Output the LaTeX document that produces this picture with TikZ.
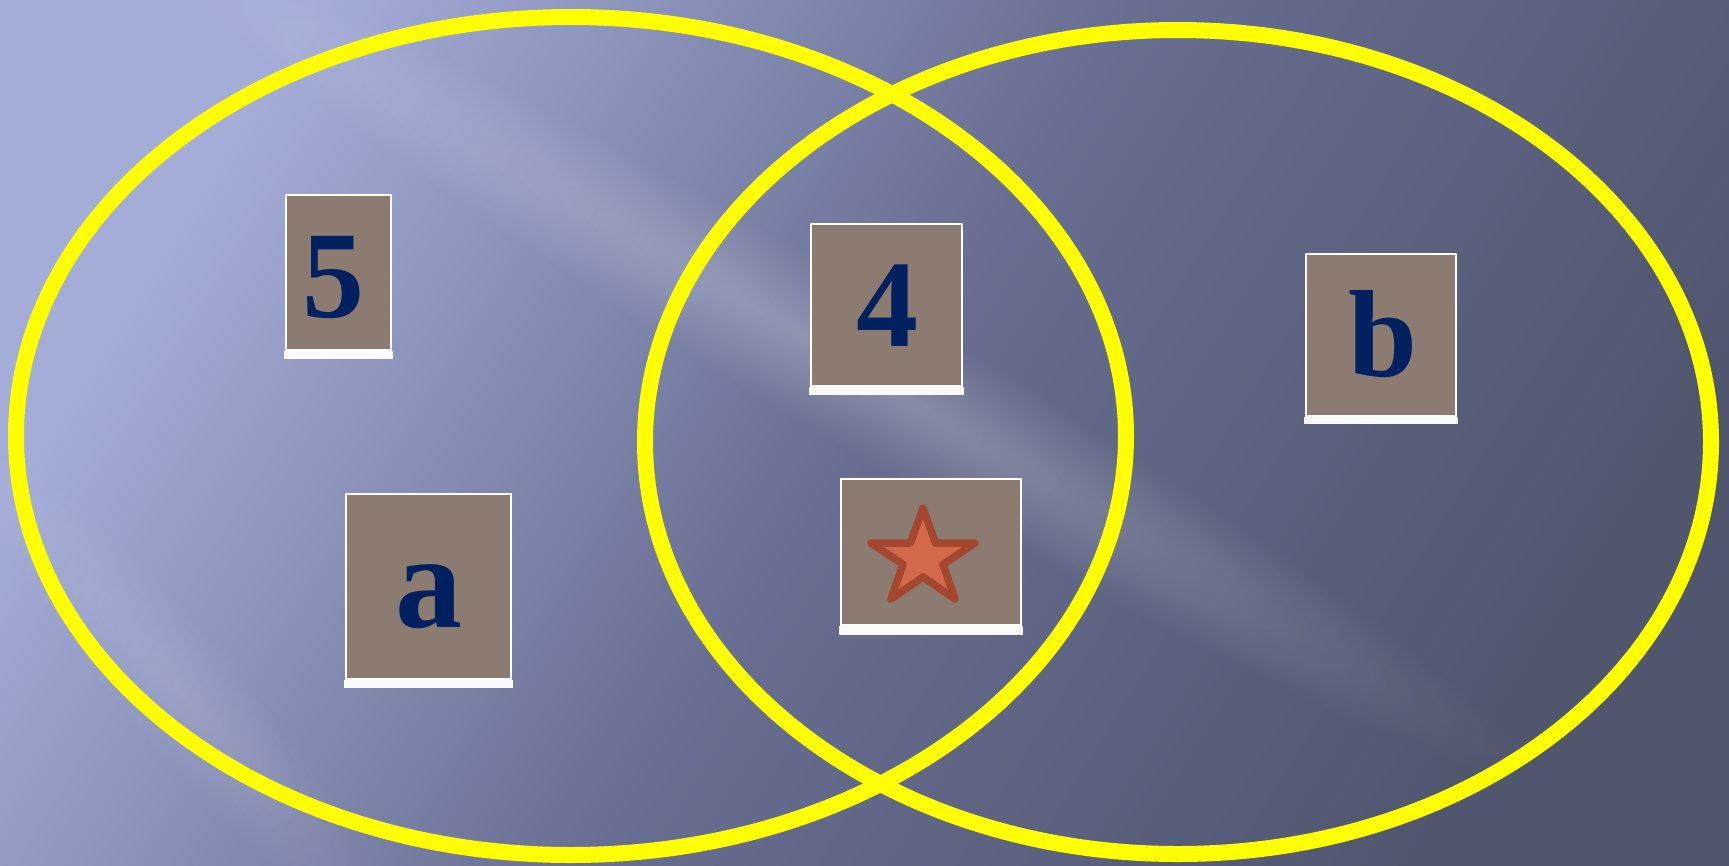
\documentclass[tikz,border=0pt]{standalone}
\usepackage{fontspec}
\setmainfont{Liberation Serif}
\usetikzlibrary{fadings}
\definecolor{bgL}{RGB}{164,173,216}
\definecolor{bgM}{RGB}{104,110,145}
\definecolor{bgD}{RGB}{80,86,110}
\definecolor{boxbrown}{RGB}{139,123,112}
\definecolor{txtblue}{RGB}{0,32,96}
\definecolor{starfill}{RGB}{210,105,74}
\definecolor{starline}{RGB}{165,70,46}
\definecolor{barwhite}{RGB}{250,250,252}
\definecolor{ringyellow}{RGB}{255,255,0}
\tikzfading[name=softblob, inner color=transparent!78, outer color=transparent!100]
\tikzfading[name=softblobweak, inner color=transparent!88, outer color=transparent!100]
\tikzset{
  ring/.style={draw=ringyellow, line width=16pt},
  cardbox/.style={rectangle, fill=boxbrown, draw=white, line width=2pt, inner sep=0pt},
  cardbar/.style={fill=barwhite},
  lbl/.style={text=txtblue, inner sep=0pt, anchor=base, font=\fontsize{124}{130}\selectfont\bfseries},
}
\begin{document}
\begin{tikzpicture}[x=1pt,y=-1pt]
\useasboundingbox (0,0) rectangle (1729,865);
% background
\shade[left color=bgL, right color=bgD, middle color=bgM, shading angle=58] (0,0) rectangle (1729,865);
% soft diagonal streaks
\begin{scope}[transform canvas={shift={(850,365)}, rotate=-31}]
  \fill[white, path fading=softblob] (-800,-75) rectangle (800,75);
\end{scope}
\begin{scope}[transform canvas={shift={(180,690)}, rotate=-50}]
  \fill[white, path fading=softblobweak] (-320,-60) rectangle (320,60);
\end{scope}
% rings
\draw[ring] (571,436) ellipse [x radius=555, y radius=419];
\draw[ring] (1178,442) ellipse [x radius=533, y radius=412];
% boxes
\node[cardbox, minimum width=105pt, minimum height=155pt] (n5) at (338.5,272.5) {};
\fill[cardbar] ([xshift=-1pt]n5.south west) rectangle ([xshift=1pt,yshift=-8pt]n5.south east);
\node[cardbox, minimum width=151pt, minimum height=162pt] (n4) at (886.5,305) {};
\fill[cardbar] ([xshift=-1pt]n4.south west) rectangle ([xshift=1pt,yshift=-8pt]n4.south east);
\node[cardbox, minimum width=150pt, minimum height=162pt] (nb) at (1381,335) {};
\fill[cardbar] ([xshift=-1pt]nb.south west) rectangle ([xshift=1pt,yshift=-7pt]nb.south east);
\node[cardbox, minimum width=165pt, minimum height=185pt] (na) at (428.5,586.5) {};
\fill[cardbar] ([xshift=-1pt]na.south west) rectangle ([xshift=1pt,yshift=-8pt]na.south east);
\node[cardbox, minimum width=180pt, minimum height=146pt] (ns) at (931,552) {};
\fill[cardbar] ([xshift=-1pt]ns.south west) rectangle ([xshift=1pt,yshift=-9pt]ns.south east);
% labels
\node[lbl] (t5) at (333,317) {5};
\node[lbl] (t4) at (887,346) {4};
\node[lbl] (tb) at (1383,376) {b};
\node[lbl, font=\fontsize{134}{140}\selectfont\bfseries] (ta) at (429,627) {a};
% star
\draw[fill=starfill, draw=starline, line width=7.5pt, line join=round]
  (923,508) -- (935.5,543) -- (975,543) -- (943,564.5) -- (955,599)
  -- (923,577) -- (891,599) -- (903,564.5) -- (871,543) -- (910.5,543) -- cycle;
\end{tikzpicture}
\end{document}
